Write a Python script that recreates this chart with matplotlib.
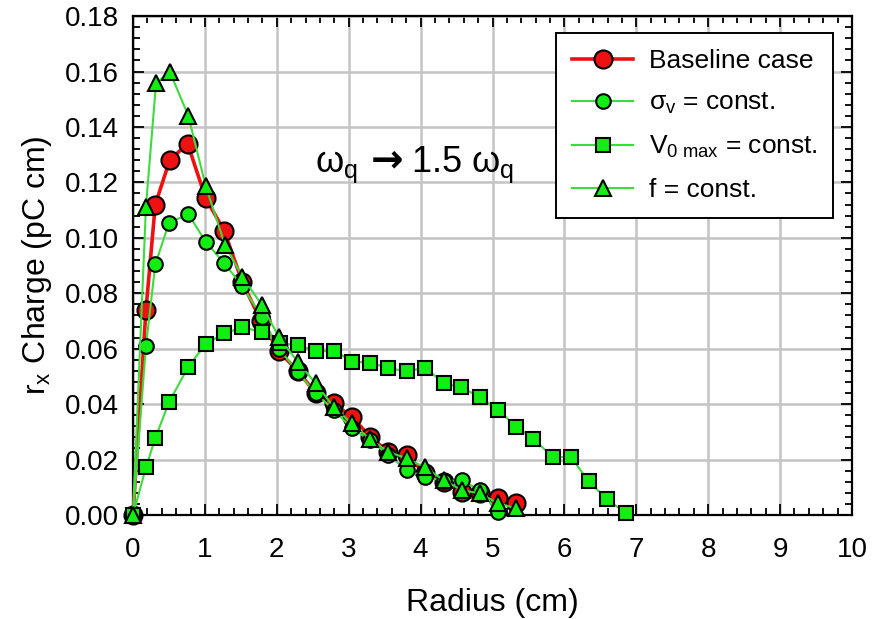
import matplotlib
matplotlib.use("Agg")
import matplotlib.pyplot as plt
from matplotlib.ticker import MultipleLocator, FormatStrFormatter

plt.rcParams['font.family'] = ['Liberation Sans', 'DejaVu Sans']
plt.rcParams['mathtext.fontset'] = 'custom'
plt.rcParams['mathtext.rm'] = 'Liberation Sans'
plt.rcParams['mathtext.it'] = 'Liberation Sans'
plt.rcParams['mathtext.bf'] = 'Liberation Sans:bold'

# Radial positions (cm) and r x charge (pC cm) for each case
r_base = [0, 0.18, 0.31, 0.51, 0.76, 1.01, 1.27, 1.52, 1.78, 2.03, 2.29, 2.54,
          2.79, 3.04, 3.30, 3.55, 3.81, 4.06, 4.32, 4.57, 4.82, 5.08, 5.33]
q_base = [0, 0.074, 0.112, 0.128, 0.134, 0.1143, 0.1025, 0.084, 0.070, 0.059,
          0.052, 0.044, 0.0403, 0.0355, 0.0282, 0.0228, 0.0216, 0.015, 0.012,
          0.0084, 0.008, 0.006, 0.0044]

r_sigma = [0, 0.18, 0.31, 0.50, 0.77, 1.01, 1.27, 1.52, 1.79, 2.03, 2.29, 2.54,
           2.79, 3.04, 3.30, 3.55, 3.81, 4.06, 4.32, 4.57, 4.82, 5.08]
q_sigma = [0, 0.061, 0.0904, 0.1054, 0.1086, 0.0986, 0.0908, 0.0826, 0.0715,
           0.060, 0.0517, 0.0439, 0.038, 0.0313, 0.027, 0.0216, 0.0162, 0.0138,
           0.0122, 0.0126, 0.009, 0.0012]

r_v0 = [0, 0.18, 0.31, 0.50, 0.77, 1.01, 1.27, 1.52, 1.79, 2.04, 2.30, 2.55,
        2.80, 3.05, 3.30, 3.55, 3.81, 4.06, 4.32, 4.56, 4.83, 5.08, 5.33, 5.57,
        5.84, 6.09, 6.34, 6.59, 6.86]
q_v0 = [0, 0.0172, 0.0277, 0.0407, 0.0535, 0.0617, 0.0655, 0.0677, 0.0661,
        0.0620, 0.0613, 0.0590, 0.0593, 0.0553, 0.0550, 0.0530, 0.0518, 0.0532,
        0.0476, 0.0461, 0.0425, 0.0378, 0.0319, 0.0274, 0.0209, 0.0209, 0.0121,
        0.0057, 0.0006]

r_f = [0, 0.18, 0.32, 0.51, 0.77, 1.01, 1.28, 1.52, 1.79, 2.03, 2.29, 2.54,
       2.79, 3.04, 3.30, 3.55, 3.81, 4.06, 4.32, 4.57, 4.82, 5.08, 5.33]
q_f = [0, 0.1112, 0.1557, 0.160, 0.144, 0.1187, 0.0974, 0.086, 0.0758, 0.0641,
       0.0553, 0.0475, 0.039, 0.0331, 0.0273, 0.0228, 0.0204, 0.0172, 0.0126,
       0.009, 0.0078, 0.0042, 0.0024]

labels = ['Baseline case', r'$\sigma_\mathrm{v}$ = const.',
          r'V$_\mathrm{0\ max}$ = const.', 'f = const.']

RED = '#ee1111'
GREEN_LINE = '#3ddc3d'
GREEN_FILL = '#11ee11'

fig = plt.figure(figsize=(8.82, 6.19), dpi=100)
ax = fig.add_axes([0.1508, 0.168, 0.8152, 0.806])

common = dict(mec='black', mew=1.5, clip_on=False)
ax.plot(r_base, q_base, '-o', color=RED, lw=2.6, ms=13, mfc=RED,
        label=labels[0], zorder=3, **common)
ax.plot(r_sigma, q_sigma, '-o', color=GREEN_LINE, lw=1.5, ms=10.5, mfc=GREEN_FILL,
        label=labels[1], zorder=4, **common)
ax.plot(r_v0, q_v0, '-s', color=GREEN_LINE, lw=1.5, ms=10, mfc=GREEN_FILL,
        label=labels[2], zorder=4, **common)
ax.plot(r_f, q_f, '-^', color=GREEN_LINE, lw=1.5, ms=11, mfc=GREEN_FILL,
        label=labels[3], zorder=5, **common)

ax.set_xlim(0, 10)
ax.set_ylim(0, 0.18)
ax.xaxis.set_major_locator(MultipleLocator(1))
ax.xaxis.set_minor_locator(MultipleLocator(0.2))
ax.yaxis.set_major_locator(MultipleLocator(0.02))
ax.yaxis.set_minor_locator(MultipleLocator(0.004))
ax.yaxis.set_major_formatter(FormatStrFormatter('%.2f'))

ax.grid(True, which='major', color='#c4c4c4', lw=1.8, zorder=0)
ax.set_axisbelow(True)
for s in ax.spines.values():
    s.set_linewidth(1.6)
ax.tick_params(which='both', direction='in', top=True, right=True,
               width=1.3, labelsize=20)
ax.tick_params(axis='x', which='major', pad=16)
ax.tick_params(axis='y', which='major', pad=10)
ax.tick_params(which='major', length=8)
ax.tick_params(which='minor', length=5)

ax.set_xlabel('Radius (cm)', fontsize=23, labelpad=18)
ax.set_ylabel(r'r$_\mathrm{x}$ Charge (pC cm)', fontsize=23, labelpad=8)

# Frequency-scaling note: omega_q -> 1.5 omega_q
y_note = 0.1237
ax.text(3.12, y_note, r'$\omega_\mathrm{q}$', fontsize=26, ha='right', va='baseline')
ax.text(3.53, y_note + 0.0004, '\u2192', fontsize=28, fontweight='bold',
        family='DejaVu Sans', ha='center', va='baseline')
ax.text(3.87, y_note, r'1.5 $\omega_\mathrm{q}$', fontsize=26, ha='left', va='baseline')

leg = ax.legend(loc='upper right', bbox_to_anchor=(0.974, 0.966),
                borderaxespad=0, fontsize=19, handlelength=2.3,
                handletextpad=0.6, labelspacing=0.68, borderpad=0.6,
                fancybox=False, framealpha=1, edgecolor='black')
leg.get_frame().set_linewidth(1.4)

fig.savefig('out.png', dpi=100)
